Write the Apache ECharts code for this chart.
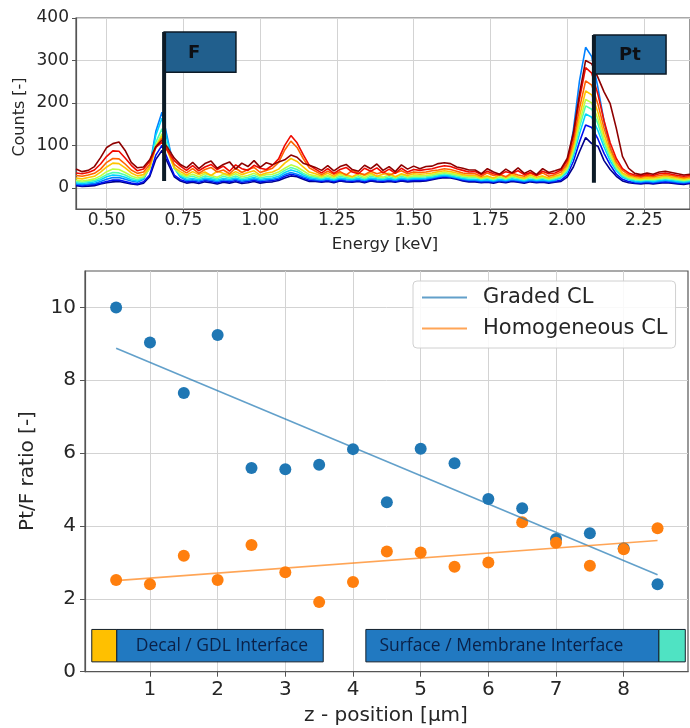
<!DOCTYPE html>
<html><head><meta charset="utf-8">
<script src="https://cdn.jsdelivr.net/npm/echarts@6/dist/echarts.min.js"></script>
<style>html,body{margin:0;padding:0;background:#fff}#c{width:690px;height:728px}</style>
</head><body><div id="c"></div>
<script>
// ---------- top panel: EDX spectra (energy grid 0.40 .. 2.40 keV, step 0.02) ----------
const energyStart = 0.40;
const energyStep = 0.02;
const energyTicks = [0.5, 0.75, 1.0, 1.25, 1.5, 1.75, 2.0, 2.25];
const countTicks = [0, 100, 200, 300, 400];

const spectrumA = [5,3,4,5,9,12,14,15,12,9,7, 11,26,67,88,57,26,16, 11,13,10,14,12,9,13,11,14,10,12,15,11,13, 14,17,23,28,26,20,15,15, 13,15,12,16,14,13,15,12,16,14,13,15,13,16,14,15, 15,16,19,22,24,23,20,16,14, 14,12,13,11,14,12,15,13,11,14,12,13,11,13, 15,25,49,85,118,104,98,64,43,27,16,12, 10,9,11,9,11,12,11,9,8,10];
const spectrumB = [7,5,7,8,11,15,18,18,15,11,9, 14,30,77,100,65,30,19, 14,16,13,17,15,12,16,14,17,13,15,18,14,16, 17,20,27,32,29,23,18,17, 15,17,14,18,16,15,17,14,18,16,15,17,15,18,16,17, 17,18,21,24,26,25,22,18,16, 16,14,15,13,16,14,17,15,13,16,14,15,13,15, 18,30,62,108,148,142,115,81,54,32,20,15, 12,11,13,11,13,14,13,11,10,12];
const spectrumC = [9,7,9,10,15,20,24,24,20,16,13, 20,49,133,178,110,47,25, 17,19,16,20,18,15,19,17,20,16,18,21,17,19, 20,23,31,36,32,26,21,19, 18,20,17,21,19,18,20,17,21,19,18,20,18,21,19,20, 20,21,23,26,28,26,23,20,18, 18,16,17,15,18,16,19,17,15,18,16,17,15,17, 25,54,136,252,331,309,236,157,94,52,30,20, 14,13,15,13,15,17,15,13,12,14];
const spectrumD = [12,10,12,14,19,26,30,29,25,19,16, 22,49,124,164,104,47,27, 20,22,19,23,21,18,22,20,23,19,21,24,20,22, 23,27,36,42,38,30,24,22, 20,22,19,23,21,20,22,19,23,21,20,22,20,23,21,22, 22,23,25,28,30,28,25,22,20, 20,18,19,17,20,18,21,19,17,20,18,19,17,19, 23,37,73,127,174,166,135,96,63,40,25,19, 16,15,17,15,17,19,17,15,14,16];
const spectrumE = [15,13,15,17,23,31,36,35,30,23,19, 24,46,107,139,91,45,30, 24,27,22,28,25,21,27,23,28,22,25,29,23,26, 27,32,41,48,43,34,27,25, 22,26,21,27,24,22,26,21,27,24,22,26,22,27,23,25, 25,26,28,31,33,31,28,25,23, 24,20,23,19,24,20,25,22,19,24,20,23,19,22, 26,42,82,142,193,185,151,106,71,45,29,21, 19,17,19,18,20,22,20,18,16,18];
const spectrumF = [18,16,18,21,28,38,44,43,36,28,23, 26,45,99,127,85,46,33, 27,32,26,33,29,25,32,27,33,26,29,34,27,31, 32,37,46,54,49,40,31,28, 25,29,24,31,27,25,30,24,31,27,25,30,25,31,26,28, 28,29,31,34,36,34,31,28,26, 26,22,25,21,26,22,27,24,21,26,22,25,21,24, 29,45,88,153,208,200,162,115,77,49,32,24, 21,19,21,20,22,24,22,20,18,20];
const spectrumG = [23,21,24,27,37,49,58,57,47,35,28, 31,48,96,121,84,48,38, 30,38,31,37,29,39,34,30,38,31,36,40,30,35, 37,44,58,69,62,49,37,33, 28,34,27,35,31,26,34,29,35,27,32,34,26,33,29,33, 32,33,35,38,40,38,35,31,29, 29,24,28,23,30,25,31,26,23,30,25,28,23,27, 32,50,97,168,228,219,178,126,85,55,35,27, 24,22,24,23,25,27,25,23,21,23];
const spectrumH = [29,27,30,34,44,60,69,68,56,42,34, 37,55,95,116,84,55,44, 35,45,34,43,48,37,42,33,46,36,43,48,36,41, 46,60,89,110,95,69,47,39, 31,39,32,38,30,41,35,31,39,33,37,30,35,40,33,37, 36,37,40,42,45,43,39,35,33, 33,27,35,29,32,26,35,30,27,34,29,35,27,31, 37,57,108,187,252,242,197,141,95,61,41,31, 27,25,28,26,29,31,29,26,24,26];
const spectrumI = [35,33,36,42,56,74,87,86,70,53,40, 44,62,95,107,86,64,51, 41,52,40,49,55,43,51,39,54,45,41,53,46,43, 53,68,100,123,106,78,53,44, 35,45,34,43,48,37,33,46,39,47,35,44,34,46,37,43, 41,43,45,49,52,50,45,41,37, 38,31,39,33,30,38,34,40,31,36,29,39,33,35, 42,64,121,209,283,270,220,158,106,69,45,35, 30,28,31,29,33,35,32,29,27,29];
const spectrumJ = [44,38,41,50,71,95,104,108,88,60,47, 49,66,97,112,93,70,55, 47,60,45,57,63,46,55,61,44,58,50,64,48,59, 54,61,66,77,72,58,53,48, 41,52,40,50,55,43,39,53,45,56,41,50,38,54,44,51, 45,50,51,57,59,57,49,46,42, 42,33,45,37,32,44,35,47,34,41,31,45,36,40, 45,69,129,221,300,292,260,226,198,140,74,46, 34,31,35,32,37,39,36,33,30,32];

const spectra = [spectrumA, spectrumB, spectrumC, spectrumD, spectrumE, spectrumF, spectrumG, spectrumH, spectrumI, spectrumJ];
const spectrumColors = ['#00008b','#0010f0','#0080ff','#00d4ff','#4effb0','#bcff42','#ffc400','#ff6400','#f00a00','#8e0000'];

// element markers
const flagLabels = ['F', 'Pt'];
const flagEnergy = [0.687, 2.087];

// ---------- bottom panel: Pt/F ratio ----------
const zPositions = [0.5,1,1.5,2,2.5,3,3.5,4,4.5,5,5.5,6,6.5,7,7.5,8,8.5];
const gradedRatio = [10.0,9.04,7.65,9.24,5.59,5.56,5.68,6.11,4.65,6.12,5.72,4.74,4.49,3.64,3.80,3.39,2.40];
const homogeneousRatio = [2.52,2.40,3.18,2.52,3.48,2.73,1.91,2.46,3.30,3.27,2.88,3.00,4.10,3.54,2.91,3.36,3.94];
const gradedFitEnds = [[0.5, 8.88], [8.5, 2.66]];
const homogeneousFitEnds = [[0.5, 2.50], [8.5, 3.60]];
const zTicks = [1,2,3,4,5,6,7,8];
const ratioTicks = [0,2,4,6,8,10];

// ---------- annotation geometry (positions/styles) ----------
const flagGeom = [
  {top: 367, foot: 16, right: 0.921, bottom: 272, dx: -6},
  {top: 360, foot: 12, right: 2.322, bottom: 268, dx: 0}
];
const interfaceBars = [
  {x0: 0.14, x1: 0.51, color: '#ffc000'},
  {x0: 0.51, x1: 3.56, color: '#2179c1', text: 'Decal / GDL Interface', tx: 0.79},
  {x0: 4.19, x1: 8.52, color: '#2179c1', text: 'Surface / Membrane Interface', tx: 4.39},
  {x0: 8.52, x1: 8.91, color: '#4fe3c3'}
];
const barY = [0.27, 1.16];

const chart = echarts.init(document.getElementById('c'), null, {renderer: 'canvas'});
const FONT = 'DejaVu Sans';
const axisCol = '#555';
const gridCol = '#d3d3d3';

const energies = spectrumA.map((_, i) => +(energyStart + i * energyStep).toFixed(2));

const spectrumSeries = spectra.map((s, k) => ({
  type: 'line', xAxisIndex: 0, yAxisIndex: 0, showSymbol: false, symbol: 'none',
  data: s.map((v, i) => [energies[i], v]),
  lineStyle: {color: spectrumColors[k], width: 1.6}, itemStyle: {color: spectrumColors[k]},
  z: 2 + k * 0.01, silent: true, animation: false
}));

const flagSeries = {
  type: 'custom', xAxisIndex: 0, yAxisIndex: 0, z: 10, animation: false, silent: true,
  data: flagEnergy.map((e, i) => [e, flagGeom[i].top]),
  renderItem: function (params, api) {
    const i = params.dataIndex, g = flagGeom[i];
    const p0 = api.coord([flagEnergy[i], g.top]);
    const p1 = api.coord([g.right, g.bottom]);
    const pf = api.coord([flagEnergy[i], g.foot]);
    return {type: 'group', children: [
      {type: 'rect', shape: {x: p0[0], y: p0[1], width: p1[0] - p0[0], height: p1[1] - p0[1]},
       style: {fill: '#215f8d', stroke: '#0c1a26', lineWidth: 1.5}},
      {type: 'line', shape: {x1: p0[0], y1: p0[1], x2: pf[0], y2: pf[1]},
       style: {stroke: '#0c1a26', lineWidth: 4}},
      {type: 'text', style: {text: flagLabels[i], x: (p0[0] + p1[0]) / 2 + g.dx, y: (p0[1] + p1[1]) / 2 + 1,
       align: 'center', verticalAlign: 'middle', fontSize: 18, fontWeight: 'bold', fontFamily: FONT, fill: '#0d0f14'}}
    ]};
  }
};

const barSeries = {
  type: 'custom', xAxisIndex: 1, yAxisIndex: 1, z: 10, animation: false, silent: true,
  data: interfaceBars.map(b => [b.x0, barY[0]]),
  renderItem: function (params, api) {
    const b = interfaceBars[params.dataIndex];
    const p0 = api.coord([b.x0, barY[1]]);
    const p1 = api.coord([b.x1, barY[0]]);
    const ch = [{type: 'rect', shape: {x: p0[0], y: p0[1], width: p1[0] - p0[0], height: p1[1] - p0[1]},
      style: {fill: b.color, stroke: '#14202c', lineWidth: 1}}];
    if (b.text) {
      const t = api.coord([b.tx, (barY[0] + barY[1]) / 2]);
      ch.push({type: 'text', style: {text: b.text, x: t[0], y: t[1], align: 'left', verticalAlign: 'middle',
        fontSize: 17.5, fontWeight: 500, fontFamily: 'Open Sans', fill: '#0a2148'}});
    }
    return {type: 'group', children: ch};
  }
};

const blue = '#1f77b4', orange = '#ff7f0e';

chart.setOption({
  animation: false,
  grid: [
    {left: 76, top: 18, width: 614, height: 191, show: true, borderColor: axisCol, borderWidth: 1.2, outerBoundsMode: 'none', containLabel: false},
    {left: 85, top: 271, width: 603, height: 400.7, show: true, borderColor: axisCol, borderWidth: 1.2, outerBoundsMode: 'none', containLabel: false}
  ],
  xAxis: [
    {type: 'value', gridIndex: 0, min: 0.4, max: 2.4,
     axisLine: {show: true, onZero: false, lineStyle: {color: axisCol, width: 1.2}},
     axisTick: {show: true, length: 4, customValues: energyTicks, lineStyle: {color: axisCol}},
     axisLabel: {customValues: energyTicks, formatter: v => v.toFixed(2), fontSize: 17, fontFamily: FONT, color: '#262626', margin: 3},
     splitLine: {show: true, lineStyle: {color: gridCol, width: 1}}},
    {type: 'value', gridIndex: 1, min: 0.04, max: 8.95,
     axisLine: {show: true, onZero: false, lineStyle: {color: axisCol, width: 1.2}},
     axisTick: {show: true, length: 5, customValues: zTicks, lineStyle: {color: axisCol}},
     axisLabel: {customValues: zTicks, fontSize: 20, fontFamily: FONT, color: '#262626', margin: 8},
     splitLine: {show: true, lineStyle: {color: gridCol, width: 1}}}
  ],
  yAxis: [
    {type: 'value', gridIndex: 0, min: -50, max: 400,
     axisLine: {show: true, onZero: false, lineStyle: {color: axisCol, width: 1.2}},
     axisTick: {show: true, length: 4, customValues: countTicks, lineStyle: {color: axisCol}},
     axisLabel: {customValues: countTicks, fontSize: 17, fontFamily: FONT, color: '#262626', margin: 7},
     splitLine: {show: true, lineStyle: {color: gridCol, width: 1}}},
    {type: 'value', gridIndex: 1, min: 0, max: 11,
     axisLine: {show: true, onZero: false, lineStyle: {color: axisCol, width: 1.2}},
     axisTick: {show: true, length: 5, customValues: ratioTicks, lineStyle: {color: axisCol}},
     axisLabel: {customValues: ratioTicks, fontSize: 20, fontFamily: FONT, color: '#262626', margin: 9},
     splitLine: {show: true, lineStyle: {color: gridCol, width: 1}}}
  ],
  legend: {
    data: ['Graded CL', 'Homogeneous CL'], orient: 'vertical', left: 413, top: 281,
    padding: [6, 8, 9, 9], itemGap: 10, itemWidth: 45, itemHeight: 2, icon: 'rect',
    backgroundColor: 'rgba(255,255,255,0.85)', borderColor: '#d0d0d0', borderWidth: 1, borderRadius: 4,
    textStyle: {fontSize: 21, fontFamily: FONT, color: '#262626', padding: [0, 0, 0, 11]}, selectedMode: false
  },
  graphic: [
    {type: 'text', x: 20, y: 117, rotation: Math.PI / 2, style: {text: 'Counts [-]', fontSize: 16, fontFamily: FONT, fill: '#262626', align: 'center', verticalAlign: 'middle'}},
    {type: 'text', x: 385, y: 245, style: {text: 'Energy [keV]', fontSize: 16.5, fontFamily: FONT, fill: '#262626', align: 'center', verticalAlign: 'middle'}},
    {type: 'text', x: 28, y: 471, rotation: Math.PI / 2, style: {text: 'Pt/F ratio [-]', fontSize: 20, fontFamily: FONT, fill: '#262626', align: 'center', verticalAlign: 'middle'}},
    {type: 'text', x: 386, y: 716, style: {text: 'z - position [µm]', fontSize: 20, fontFamily: FONT, fill: '#262626', align: 'center', verticalAlign: 'middle'}}
  ],
  series: spectrumSeries.concat([
    flagSeries,
    {name: 'graded points', type: 'scatter', xAxisIndex: 1, yAxisIndex: 1, symbolSize: 12, z: 3,
     data: zPositions.map((z, i) => [z, gradedRatio[i]]), itemStyle: {color: blue, opacity: 1}},
    {name: 'homogeneous points', type: 'scatter', xAxisIndex: 1, yAxisIndex: 1, symbolSize: 12, z: 4,
     data: zPositions.map((z, i) => [z, homogeneousRatio[i]]), itemStyle: {color: orange, opacity: 1}},
    {name: 'Graded CL', type: 'line', xAxisIndex: 1, yAxisIndex: 1, symbol: 'none', z: 5,
     color: 'rgba(31,119,180,0.7)', data: gradedFitEnds, lineStyle: {width: 1.6}},
    {name: 'Homogeneous CL', type: 'line', xAxisIndex: 1, yAxisIndex: 1, symbol: 'none', z: 5,
     color: 'rgba(255,127,14,0.7)', data: homogeneousFitEnds, lineStyle: {width: 1.6}},
    barSeries
  ])
});
</script></body></html>
